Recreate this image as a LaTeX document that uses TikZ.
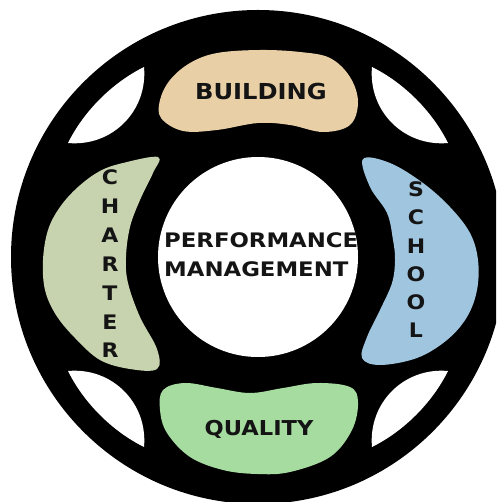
\documentclass[tikz,border=0pt]{standalone}
\usepackage{fontspec}
\usepackage{xcolor}
\usetikzlibrary{calc, positioning}

\newfontfamily\lblfont[FakeStretch=1.1]{DejaVu Sans Bold}
\newfontfamily\hubfont[FakeStretch=1.14]{DejaVu Sans Bold}

\definecolor{tan1}{RGB}{232, 207, 166}
\definecolor{sage}{RGB}{199, 210, 174}
\definecolor{sky}{RGB}{160, 197, 223}
\definecolor{mint}{RGB}{166, 220, 160}
\definecolor{ink}{HTML}{141414}

\begin{document}
\begin{tikzpicture}[x=1pt, y=-1pt,
	lbl/.style={text=ink, inner sep=0pt, font=\lblfont\fontsize{20}{29}\selectfont},
	bean/.style={smooth cycle, tension=0.6}
]
	\useasboundingbox (0, 0) rectangle (496, 502);
	\clip (0, 0) rectangle (496, 502);
	
	\coordinate (O) at (258, 257);
	
	% wheel and hub
	\fill[black] (O) circle (247pt);
	\fill[white] (O) circle (100pt);
	
	% the four openings between the segments
	\foreach \a in {0, 90, 180, 270} {
		\fill[white, shift={(O)}, rotate=\a] (-190, -114) .. controls (-174, -146) and (-146, -174) .. (-114, -190)
			.. controls (-110, -146) and (-146, -110) .. cycle;
	}
	
	% segments
	\fill[tan1] plot[bean] coordinates {(160, 100) (170, 80) (190, 63) (217, 53) (260, 50) (300, 52) (330, 58) (350, 77)
		(358, 102) (350, 125) (323, 132) (290, 125) (258, 123) (217, 130) (183, 131) (161, 118)};
	\fill[sage] plot[bean] coordinates {(158, 157) (123, 163) (100, 171) (78, 187) (60, 207) (48, 230) (43, 260) (45, 290)
		(56, 315) (75, 338) (100, 360) (130, 369) (157, 369) (157, 349) (140, 317) (128, 283) (126, 257) (130, 227) (140, 200) (153, 173)};
	\fill[sky] plot[bean] coordinates {(363, 159) (390, 163) (423, 183) (450, 207) (470, 233) (478, 260) (477, 290) (467, 317)
		(447, 340) (417, 358) (380, 365) (362, 358) (367, 337) (380, 310) (392, 283) (395, 260) (393, 240) (387, 213) (370, 187)};
	\fill[mint] plot[bean] coordinates {(163, 390) (185, 383) (217, 388) (250, 393) (283, 388) (317, 383) (350, 387) (358, 402)
		(352, 430) (330, 457) (290, 472) (257, 474) (223, 470) (190, 457) (167, 433) (160, 410)};
	
	% labels
	\node[lbl, font=\lblfont\fontsize{22}{26}\selectfont, anchor=base] (building) at (261, 100) {BUILDING};
	\node[lbl, font=\lblfont\fontsize{20.5}{26}\selectfont, anchor=base] (quality) at (259, 435) {QUALITY};
	\node[lbl, font=\hubfont\fontsize{20}{29}\selectfont, align=left, anchor=west] (perf) at (164, 255) {PERFORMANCE\\MANAGEMENT};
	
	\foreach \l [count=\i from 0] in {C, H, A, R, T, E, R}
		\node[lbl, anchor=base] (charter-\i) at (110, 185 + 28.8*\i) {\l};
	\foreach \l [count=\i from 0] in {S, C, H, O, O, L}
		\node[lbl, anchor=base] (school-\i) at (416, 197 + 28*\i) {\l};
	
\end{tikzpicture}
\end{document}
